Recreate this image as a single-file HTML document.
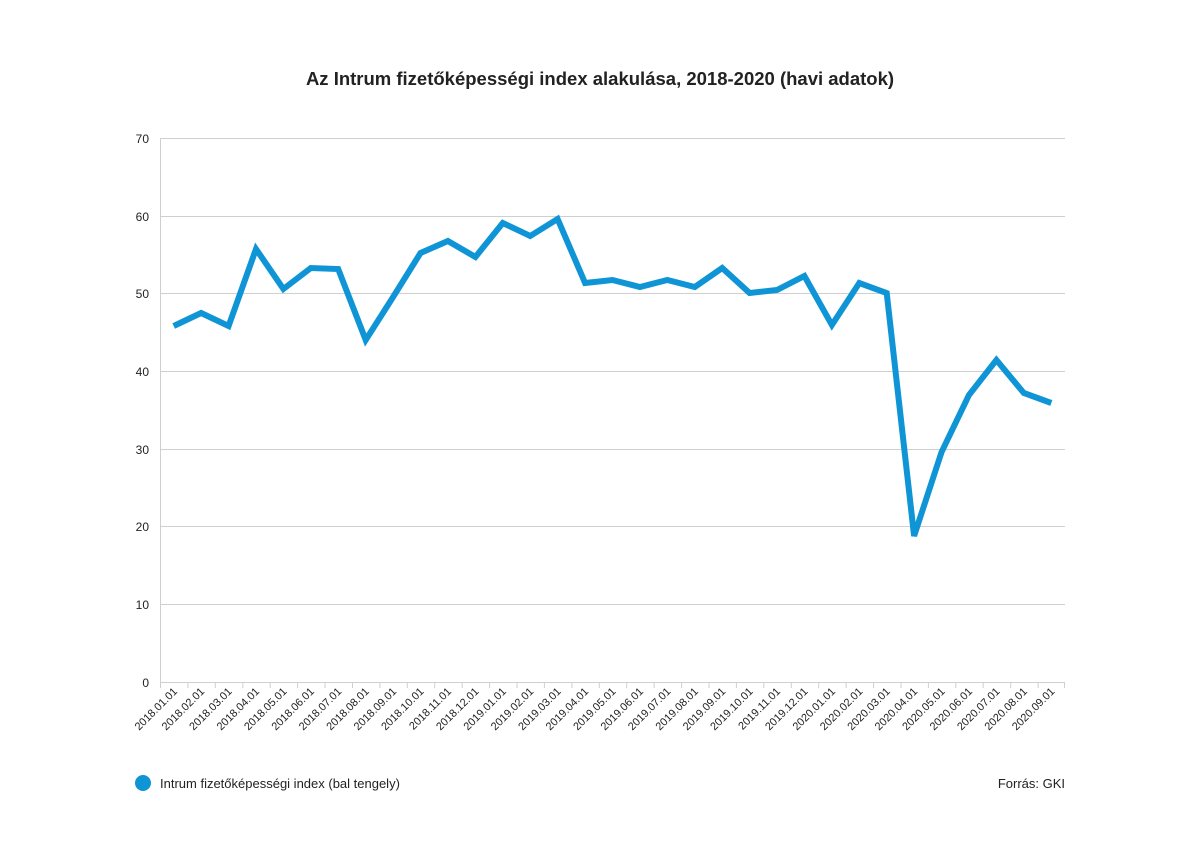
<!DOCTYPE html>
<html><head><meta charset="utf-8"><style>
body{margin:0;background:#fff;}
text{font-family:"Liberation Sans",sans-serif;fill:#222;}
</style></head><body>
<svg width="1200" height="849" xmlns="http://www.w3.org/2000/svg">
<text x="600" y="85" text-anchor="middle" font-size="18.5" font-weight="bold">Az Intrum fizetőképességi index alakulása, 2018-2020 (havi adatok)</text>
<g stroke="#cfcfcf" stroke-width="1">
<line x1="160" y1="138.5" x2="1065" y2="138.5"/>
<line x1="160" y1="216.5" x2="1065" y2="216.5"/>
<line x1="160" y1="293.5" x2="1065" y2="293.5"/>
<line x1="160" y1="371.5" x2="1065" y2="371.5"/>
<line x1="160" y1="449.5" x2="1065" y2="449.5"/>
<line x1="160" y1="526.5" x2="1065" y2="526.5"/>
<line x1="160" y1="604.5" x2="1065" y2="604.5"/>
<line x1="160.5" y1="138" x2="160.5" y2="682"/>
<line x1="160" y1="682.5" x2="1065" y2="682.5"/>
</g>
<g stroke="#cfcfcf" stroke-width="1">
<path d="M160.5 682v6M187.9 682v6M215.3 682v6M242.8 682v6M270.2 682v6M297.6 682v6M325 682v6M352.5 682v6M379.9 682v6M407.3 682v6M434.7 682v6M462.2 682v6M489.6 682v6M517 682v6M544.4 682v6M571.9 682v6M599.3 682v6M626.7 682v6M654.1 682v6M681.6 682v6M709 682v6M736.4 682v6M763.8 682v6M791.3 682v6M818.7 682v6M846.1 682v6M873.5 682v6M901 682v6M928.4 682v6M955.8 682v6M983.2 682v6M1010.7 682v6M1038.1 682v6M1064.5 682v6"/>
</g>
<g font-size="12" text-anchor="end">
<text x="149" y="143">70</text><text x="149" y="221">60</text><text x="149" y="298">50</text><text x="149" y="376">40</text><text x="149" y="454">30</text><text x="149" y="531">20</text><text x="149" y="609">10</text><text x="149" y="687">0</text>
</g>
<g font-size="11" text-anchor="end">
<text transform="translate(178,692) rotate(-45)">2018.01.01</text>
<text transform="translate(205.1,692) rotate(-45)">2018.02.01</text>
<text transform="translate(232.6,692) rotate(-45)">2018.03.01</text>
<text transform="translate(260,692) rotate(-45)">2018.04.01</text>
<text transform="translate(287.4,692) rotate(-45)">2018.05.01</text>
<text transform="translate(314.8,692) rotate(-45)">2018.06.01</text>
<text transform="translate(342.2,692) rotate(-45)">2018.07.01</text>
<text transform="translate(369.7,692) rotate(-45)">2018.08.01</text>
<text transform="translate(397.1,692) rotate(-45)">2018.09.01</text>
<text transform="translate(424.5,692) rotate(-45)">2018.10.01</text>
<text transform="translate(451.9,692) rotate(-45)">2018.11.01</text>
<text transform="translate(479.4,692) rotate(-45)">2018.12.01</text>
<text transform="translate(506.8,692) rotate(-45)">2019.01.01</text>
<text transform="translate(534.2,692) rotate(-45)">2019.02.01</text>
<text transform="translate(561.6,692) rotate(-45)">2019.03.01</text>
<text transform="translate(589.1,692) rotate(-45)">2019.04.01</text>
<text transform="translate(616.5,692) rotate(-45)">2019.05.01</text>
<text transform="translate(643.9,692) rotate(-45)">2019.06.01</text>
<text transform="translate(671.3,692) rotate(-45)">2019.07.01</text>
<text transform="translate(698.8,692) rotate(-45)">2019.08.01</text>
<text transform="translate(726.2,692) rotate(-45)">2019.09.01</text>
<text transform="translate(753.6,692) rotate(-45)">2019.10.01</text>
<text transform="translate(781,692) rotate(-45)">2019.11.01</text>
<text transform="translate(808.4,692) rotate(-45)">2019.12.01</text>
<text transform="translate(835.9,692) rotate(-45)">2020.01.01</text>
<text transform="translate(863.3,692) rotate(-45)">2020.02.01</text>
<text transform="translate(890.7,692) rotate(-45)">2020.03.01</text>
<text transform="translate(918.1,692) rotate(-45)">2020.04.01</text>
<text transform="translate(945.6,692) rotate(-45)">2020.05.01</text>
<text transform="translate(973,692) rotate(-45)">2020.06.01</text>
<text transform="translate(1000.4,692) rotate(-45)">2020.07.01</text>
<text transform="translate(1027.8,692) rotate(-45)">2020.08.01</text>
<text transform="translate(1055.3,692) rotate(-45)">2020.09.01</text>
</g>
<polyline fill="none" stroke="#0f95d6" stroke-width="6" stroke-linejoin="miter" points="173.7,326 201.1,313 228.6,326 256,249 283.4,289 310.8,268 338.2,269 365.7,340 393.1,297 420.5,253 447.9,241 475.4,257 502.8,223 530.2,236 557.6,219 585.1,283 612.5,280 639.9,287 667.3,280 694.8,287 722.2,268 749.6,293 777,290 804.4,276 831.9,325 859.3,283 886.7,293 914.1,536 941.6,452 969,395 996.4,360 1023.8,393 1051.3,403"/>
<circle cx="143" cy="783" r="8" fill="#0f95d6"/>
<text x="160" y="788" font-size="13">Intrum fizetőképességi index (bal tengely)</text>
<text x="1065" y="788" font-size="13" text-anchor="end">Forrás: GKI</text>
</svg>
</body></html>
